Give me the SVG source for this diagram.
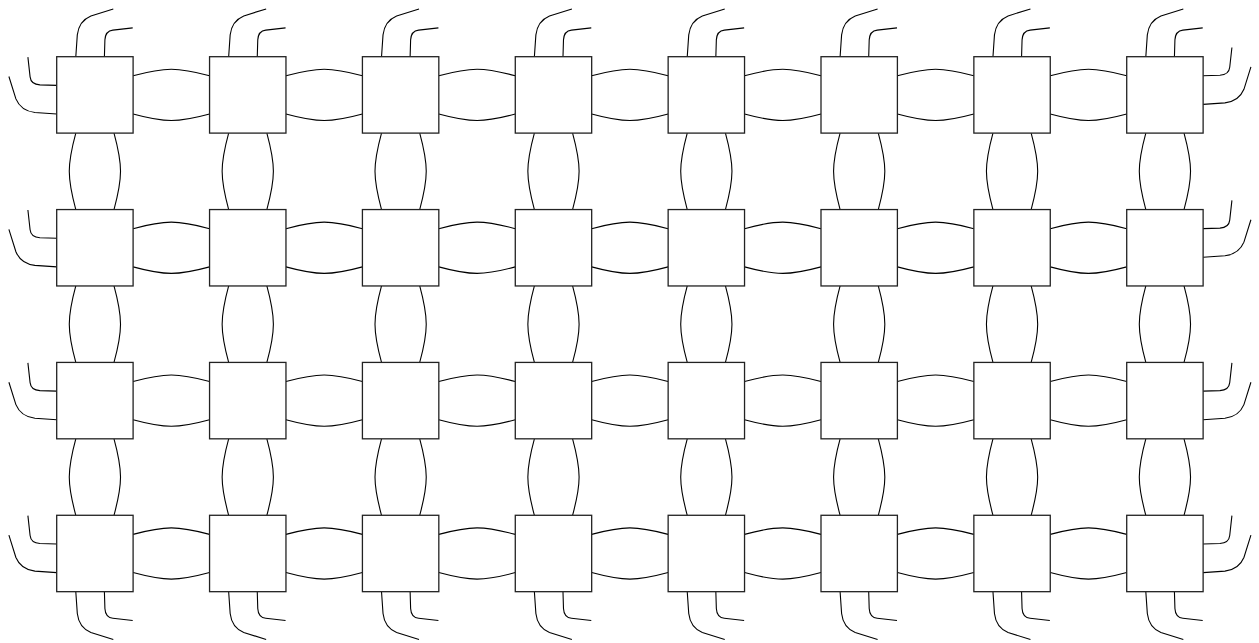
<svg xmlns="http://www.w3.org/2000/svg" xmlns:xlink="http://www.w3.org/1999/xlink" width="1259" height="643" viewBox="0 0 1259 643">
<style>
.box{fill:#fff;stroke:#222;stroke-width:1.3}
.ln{fill:none;stroke:#000;stroke-width:1.1}
</style>
<defs>
<g id="h" class="ln"><path d="M38.2,-19.1 C70.2,-27.8 82.66,-27.8 114.66,-19.1"/><path d="M38.2,19.1 C70.2,27.8 82.66,27.8 114.66,19.1"/></g>
<g id="v" class="ln"><path d="M-19.1,38.2 C-27.8,70.2 -27.8,82.66 -19.1,114.66"/><path d="M19.1,38.2 C27.8,70.2 27.8,82.66 19.1,114.66"/></g>
<g id="st" class="ln"><path d="M-19.1,-38.2 L-17.6,-60 Q-16,-74 -4,-79 L18.4,-86"/><path d="M9.5,-38.2 L10,-55 Q10.5,-64 18,-64.8 L37.8,-67"/></g>
<g id="sl"><use xlink:href="#st" transform="rotate(-90)"/></g>
<g id="sb"><use xlink:href="#st" transform="scale(1,-1)"/></g>
<g id="sr"><use xlink:href="#st" transform="scale(-1,1) rotate(-90)"/></g>
</defs>
<g id="connectors">
<use xlink:href="#h" x="94.9" y="94.9"/><use xlink:href="#h" x="247.76" y="94.9"/><use xlink:href="#h" x="400.62" y="94.9"/><use xlink:href="#h" x="553.48" y="94.9"/><use xlink:href="#h" x="706.34" y="94.9"/><use xlink:href="#h" x="859.2" y="94.9"/><use xlink:href="#h" x="1012.06" y="94.9"/>
<use xlink:href="#h" x="94.9" y="247.76"/><use xlink:href="#h" x="247.76" y="247.76"/><use xlink:href="#h" x="400.62" y="247.76"/><use xlink:href="#h" x="553.48" y="247.76"/><use xlink:href="#h" x="706.34" y="247.76"/><use xlink:href="#h" x="859.2" y="247.76"/><use xlink:href="#h" x="1012.06" y="247.76"/>
<use xlink:href="#h" x="94.9" y="400.62"/><use xlink:href="#h" x="247.76" y="400.62"/><use xlink:href="#h" x="400.62" y="400.62"/><use xlink:href="#h" x="553.48" y="400.62"/><use xlink:href="#h" x="706.34" y="400.62"/><use xlink:href="#h" x="859.2" y="400.62"/><use xlink:href="#h" x="1012.06" y="400.62"/>
<use xlink:href="#h" x="94.9" y="553.48"/><use xlink:href="#h" x="247.76" y="553.48"/><use xlink:href="#h" x="400.62" y="553.48"/><use xlink:href="#h" x="553.48" y="553.48"/><use xlink:href="#h" x="706.34" y="553.48"/><use xlink:href="#h" x="859.2" y="553.48"/><use xlink:href="#h" x="1012.06" y="553.48"/>
<use xlink:href="#v" x="94.9" y="94.9"/><use xlink:href="#v" x="247.76" y="94.9"/><use xlink:href="#v" x="400.62" y="94.9"/><use xlink:href="#v" x="553.48" y="94.9"/><use xlink:href="#v" x="706.34" y="94.9"/><use xlink:href="#v" x="859.2" y="94.9"/><use xlink:href="#v" x="1012.06" y="94.9"/><use xlink:href="#v" x="1164.92" y="94.9"/>
<use xlink:href="#v" x="94.9" y="247.76"/><use xlink:href="#v" x="247.76" y="247.76"/><use xlink:href="#v" x="400.62" y="247.76"/><use xlink:href="#v" x="553.48" y="247.76"/><use xlink:href="#v" x="706.34" y="247.76"/><use xlink:href="#v" x="859.2" y="247.76"/><use xlink:href="#v" x="1012.06" y="247.76"/><use xlink:href="#v" x="1164.92" y="247.76"/>
<use xlink:href="#v" x="94.9" y="400.62"/><use xlink:href="#v" x="247.76" y="400.62"/><use xlink:href="#v" x="400.62" y="400.62"/><use xlink:href="#v" x="553.48" y="400.62"/><use xlink:href="#v" x="706.34" y="400.62"/><use xlink:href="#v" x="859.2" y="400.62"/><use xlink:href="#v" x="1012.06" y="400.62"/><use xlink:href="#v" x="1164.92" y="400.62"/>
</g>
<g id="ports">
<use xlink:href="#st" x="94.9" y="94.9"/><use xlink:href="#st" x="247.76" y="94.9"/><use xlink:href="#st" x="400.62" y="94.9"/><use xlink:href="#st" x="553.48" y="94.9"/><use xlink:href="#st" x="706.34" y="94.9"/><use xlink:href="#st" x="859.2" y="94.9"/><use xlink:href="#st" x="1012.06" y="94.9"/><use xlink:href="#st" x="1164.92" y="94.9"/>
<use xlink:href="#sb" x="94.9" y="553.48"/><use xlink:href="#sb" x="247.76" y="553.48"/><use xlink:href="#sb" x="400.62" y="553.48"/><use xlink:href="#sb" x="553.48" y="553.48"/><use xlink:href="#sb" x="706.34" y="553.48"/><use xlink:href="#sb" x="859.2" y="553.48"/><use xlink:href="#sb" x="1012.06" y="553.48"/><use xlink:href="#sb" x="1164.92" y="553.48"/>
<use xlink:href="#sl" x="94.9" y="94.9"/><use xlink:href="#sl" x="94.9" y="247.76"/><use xlink:href="#sl" x="94.9" y="400.62"/><use xlink:href="#sl" x="94.9" y="553.48"/>
<use xlink:href="#sr" x="1164.92" y="85.3"/><use xlink:href="#sr" x="1164.92" y="238.16"/><use xlink:href="#sr" x="1164.92" y="400.62"/><use xlink:href="#sr" x="1164.92" y="553.48"/>
</g>
<g id="n-0-0"><rect class="box" x="56.7" y="56.7" width="76.4" height="76.4"/></g>
<g id="n-0-1"><rect class="box" x="209.56" y="56.7" width="76.4" height="76.4"/></g>
<g id="n-0-2"><rect class="box" x="362.42" y="56.7" width="76.4" height="76.4"/></g>
<g id="n-0-3"><rect class="box" x="515.28" y="56.7" width="76.4" height="76.4"/></g>
<g id="n-0-4"><rect class="box" x="668.14" y="56.7" width="76.4" height="76.4"/></g>
<g id="n-0-5"><rect class="box" x="821" y="56.7" width="76.4" height="76.4"/></g>
<g id="n-0-6"><rect class="box" x="973.86" y="56.7" width="76.4" height="76.4"/></g>
<g id="n-0-7"><rect class="box" x="1126.72" y="56.7" width="76.4" height="76.4"/></g>
<g id="n-1-0"><rect class="box" x="56.7" y="209.56" width="76.4" height="76.4"/></g>
<g id="n-1-1"><rect class="box" x="209.56" y="209.56" width="76.4" height="76.4"/></g>
<g id="n-1-2"><rect class="box" x="362.42" y="209.56" width="76.4" height="76.4"/></g>
<g id="n-1-3"><rect class="box" x="515.28" y="209.56" width="76.4" height="76.4"/></g>
<g id="n-1-4"><rect class="box" x="668.14" y="209.56" width="76.4" height="76.4"/></g>
<g id="n-1-5"><rect class="box" x="821" y="209.56" width="76.4" height="76.4"/></g>
<g id="n-1-6"><rect class="box" x="973.86" y="209.56" width="76.4" height="76.4"/></g>
<g id="n-1-7"><rect class="box" x="1126.72" y="209.56" width="76.4" height="76.4"/></g>
<g id="n-2-0"><rect class="box" x="56.7" y="362.42" width="76.4" height="76.4"/></g>
<g id="n-2-1"><rect class="box" x="209.56" y="362.42" width="76.4" height="76.4"/></g>
<g id="n-2-2"><rect class="box" x="362.42" y="362.42" width="76.4" height="76.4"/></g>
<g id="n-2-3"><rect class="box" x="515.28" y="362.42" width="76.4" height="76.4"/></g>
<g id="n-2-4"><rect class="box" x="668.14" y="362.42" width="76.4" height="76.4"/></g>
<g id="n-2-5"><rect class="box" x="821" y="362.42" width="76.4" height="76.4"/></g>
<g id="n-2-6"><rect class="box" x="973.86" y="362.42" width="76.4" height="76.4"/></g>
<g id="n-2-7"><rect class="box" x="1126.72" y="362.42" width="76.4" height="76.4"/></g>
<g id="n-3-0"><rect class="box" x="56.7" y="515.28" width="76.4" height="76.4"/></g>
<g id="n-3-1"><rect class="box" x="209.56" y="515.28" width="76.4" height="76.4"/></g>
<g id="n-3-2"><rect class="box" x="362.42" y="515.28" width="76.4" height="76.4"/></g>
<g id="n-3-3"><rect class="box" x="515.28" y="515.28" width="76.4" height="76.4"/></g>
<g id="n-3-4"><rect class="box" x="668.14" y="515.28" width="76.4" height="76.4"/></g>
<g id="n-3-5"><rect class="box" x="821" y="515.28" width="76.4" height="76.4"/></g>
<g id="n-3-6"><rect class="box" x="973.86" y="515.28" width="76.4" height="76.4"/></g>
<g id="n-3-7"><rect class="box" x="1126.72" y="515.28" width="76.4" height="76.4"/></g>
</svg>
